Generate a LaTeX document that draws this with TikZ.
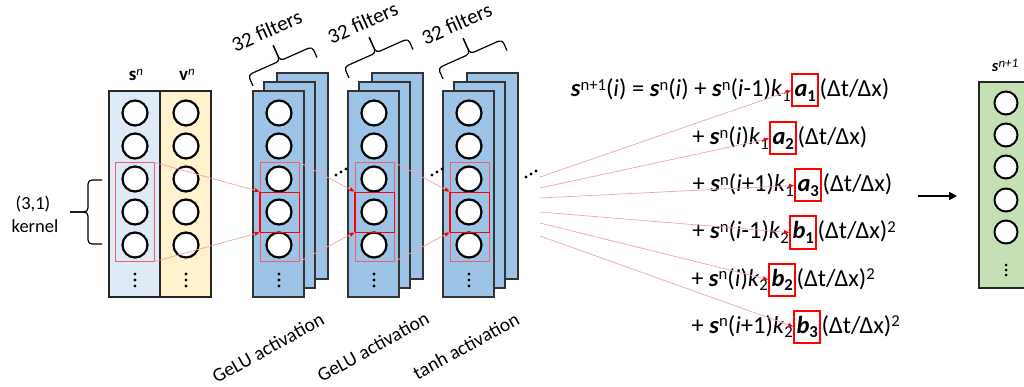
\documentclass[tikz,border=0pt]{standalone}
\usepackage{graphicx}
\usepackage{fontspec}
\setmainfont{Carlito}
\usetikzlibrary{arrows.meta}
\definecolor{sfill}{HTML}{DEEBF7}
\definecolor{vfill}{HTML}{FFF2CC}
\definecolor{stfill}{HTML}{9DC3E6}
\definecolor{gfill}{HTML}{C5E0B4}
\definecolor{kred}{HTML}{F0606A}
\definecolor{fanred}{HTML}{F2A3A6}
\newcommand\bsym{\textbf{\textit{s}}}
\newcommand\supx[1]{\raisebox{0.55ex}{\scalebox{0.68}{#1}}}
\newcommand\subx[1]{\raisebox{-0.4ex}{\scalebox{0.68}{#1}}}
\newcommand\stk[2]{%
\begin{scope}[shift={(#1,0)}]
 \draw[layer] (24,73) rectangle (75,279);
 \draw[layer] (11,82) rectangle (62,288);
 \draw[layer] (0,91) rectangle (51,297);
 \foreach \j/\yy in {1/113,2/146,3/179,4/212,5/245} \node[neuron] (#2n\j) at (26,\yy) {};
 \foreach \yy in {274,280,286} \fill (26,\yy) circle[radius=1.6];
 \node[kbox, minimum width=39pt, minimum height=98pt] (#2k) at (26.5,212) {};
 \node[ibox, minimum width=39pt, minimum height=40pt] (#2i) at (26.5,212) {};
 \draw[red, line width=2pt] (#2i.north west) -- (#2i.south west);
\end{scope}}
\newcommand\fbrace[2]{%
\begin{scope}[shift={#1}, rotate=24]
 \draw[bracel] (0,0) -- (0,-12) -- (35,-12) -- (35,-29);
 \draw[bracel] (70,0) -- (70,-12) -- (35,-12) -- (35,-29);
 \node[rotate=24, font=\fontsize{21}{23}\selectfont, inner sep=0pt] (#2) at (35,-45) {32 filters};
\end{scope}}
\newcommand\eqline[6]{%
 \node[eqbox, anchor=base west] (#1) at (#2,#3) {#5};
 \node[eqtext, anchor=base east] (#1pre) at (#1.base west) {#4};
 \node[eqtext, anchor=base west] (#1post) at (#1.base east) {#6};
}
\begin{document}
\begin{tikzpicture}[x=1pt,y=-1pt,
  layer/.style={fill=stfill, draw=black!80, line width=1.2pt},
  colbox/.style={draw=black!85, line width=1.3pt},
  neuron/.style={circle, draw=black, line width=2.2pt, fill=white, minimum size=25pt, inner sep=0pt},
  kbox/.style={draw=kred, line width=1pt, inner sep=0pt},
  ibox/.style={draw=red, line width=0.9pt, inner sep=0pt},
  bracel/.style={draw=black, line width=1.2pt, rounded corners=4pt},
  redarrow/.style={draw=fanred, line width=0.7pt, -{Triangle[length=5pt,width=4pt,color=red]}},
  eqtext/.style={inner sep=0pt, font=\fontsize{24.5}{28}\selectfont},
  eqbox/.style={draw=red, line width=2pt, inner xsep=2.5pt, inner ysep=0.5pt, text height=22pt, text depth=9pt, font=\fontsize{24.5}{28}\selectfont},
  lbl/.style={inner sep=0pt, font=\fontsize{18.5}{22}\selectfont},
  actlbl/.style={inner sep=0pt, font=\fontsize{19.5}{22}\selectfont, rotate=29}
]
\useasboundingbox (0,0) rectangle (1024,387);

% input columns
\draw[colbox, fill=sfill] (109,91) rectangle (160,297);
\draw[colbox, fill=vfill] (160,91) rectangle (211,297);
\foreach \j/\yy in {1/113,2/146,3/179,4/212,5/245} {
  \node[neuron] (s\j) at (135,\yy) {};
  \node[neuron] (v\j) at (186,\yy) {};
}
\foreach \yy in {274,280,286} { \fill (135,\yy) circle[radius=1.6]; \fill (186,\yy) circle[radius=1.6]; }
\node[lbl, font=\fontsize{19}{22}\selectfont] (slab) at (136,75) {\textbf{s}\supx{\textit{n}}};
\node[lbl, font=\fontsize{19}{22}\selectfont] (vlab) at (187,75) {\textbf{v}\supx{\textit{n}}};
\node[kbox, minimum width=39pt, minimum height=98pt] (ink) at (134.5,212) {};

% kernel brace
\draw[bracel] (102,180) -- (88,180) -- (88,212) -- (70,212);
\draw[bracel] (102,244) -- (88,244) -- (88,212) -- (70,212);
\node[lbl] (k31) at (33,204) {(3,1)};
\node[lbl] (kern) at (35,226) {kernel};

% stacks
\stk{253}{A}
\stk{348}{B}
\stk{443}{C}

% braces
\fbrace{(253,86)}{fa}
\fbrace{(349,78)}{fb}
\fbrace{(443,79)}{fc}

% activation labels
\node[actlbl] (ga) at (268,348) {GeLU activation};
\node[actlbl] (gb) at (373,347) {GeLU activation};
\node[actlbl] (gc) at (466,346) {tanh activation};

% arrows between layers
\draw[redarrow] (ink.north east) -- (Ai.north west);
\draw[redarrow] (ink.south east) -- (Ai.south west);
\draw[redarrow] (Ak.north east) -- (Bi.north west);
\draw[redarrow] (Ak.south east) -- (Bi.south west);
\draw[redarrow] (Bk.north east) -- (Ci.north west);
\draw[redarrow] (Bk.south east) -- (Ci.south west);

% ellipses
\foreach \cx/\cy in {341/172, 437/172, 531/174} {
  \fill (\cx-5,\cy+3) circle[radius=1.7];
  \fill (\cx,\cy) circle[radius=1.7];
  \fill (\cx+5,\cy-3) circle[radius=1.7];
}

% equations
\eqline{a1}{791}{97}{\bsym\supx{n+1}(\textit{i}) = \bsym\supx{n}(\textit{i}) + \bsym\supx{n}(\textit{i}-1)\textit{k}\subx{1}}{\textbf{\textit{a}\subx{1}}}{(Δt/Δx)}
\eqline{a2}{769}{145}{+ \bsym\supx{n}(\textit{i})\textit{k}\subx{1}}{\textbf{\textit{a}\subx{2}}}{(Δt/Δx)}
\eqline{a3}{794}{192}{+ \bsym\supx{n}(\textit{i}+1)\textit{k}\subx{1}}{\textbf{\textit{a}\subx{3}}}{(Δt/Δx)}
\eqline{b1}{789}{239}{+ \bsym\supx{n}(\textit{i}-1)\textit{k}\subx{2}}{\textbf{\textit{b}\subx{1}}}{(Δt/Δx)\supx{2}}
\eqline{b2}{768}{286}{+ \bsym\supx{n}(\textit{i})\textit{k}\subx{2}}{\textbf{\textit{b}\subx{2}}}{(Δt/Δx)\supx{2}}
\eqline{b3}{793}{333}{+ \bsym\supx{n}(\textit{i}+1)\textit{k}\subx{2}}{\textbf{\textit{b}\subx{3}}}{(Δt/Δx)\supx{2}}

% fan of connectors
\coordinate (f1) at (540,177);
\coordinate (f2) at (540,188);
\coordinate (f3) at (540,198);
\coordinate (f4) at (540,212);
\coordinate (f5) at (540,223);
\coordinate (f6) at (540,236);
\draw[redarrow] (f1) -- (a1.west);
\draw[redarrow] (f2) -- (a2.west);
\draw[redarrow] (f3) -- (a3.west);
\draw[redarrow] (f4) -- (b1.west);
\draw[redarrow] (f5) -- (b2.west);
\draw[redarrow] (f6) -- (b3.west);

% output arrow
\coordinate (oa) at (918,196);
\coordinate (ob) at (957,196);
\draw[line width=2pt, -{Triangle[length=8pt,width=8pt]}] (oa) -- (ob);

% output column
\draw[colbox, fill=gfill] (979,82) rectangle (1031,288);
\foreach \j/\yy in {1/103,2/135,3/167,4/200,5/232}
  \node[neuron, minimum size=23pt, line width=2pt] (o\j) at (1006,\yy) {};
\foreach \yy in {265,270,275} \fill (1006,\yy) circle[radius=1.5];
\node[inner sep=0pt, font=\fontsize{16.5}{18}\selectfont] (olab) at (1005,65) {\textbf{\textit{s}}\raisebox{0.5ex}{\scalebox{0.78}{\textit{n+1}}}};
\end{tikzpicture}
\end{document}
